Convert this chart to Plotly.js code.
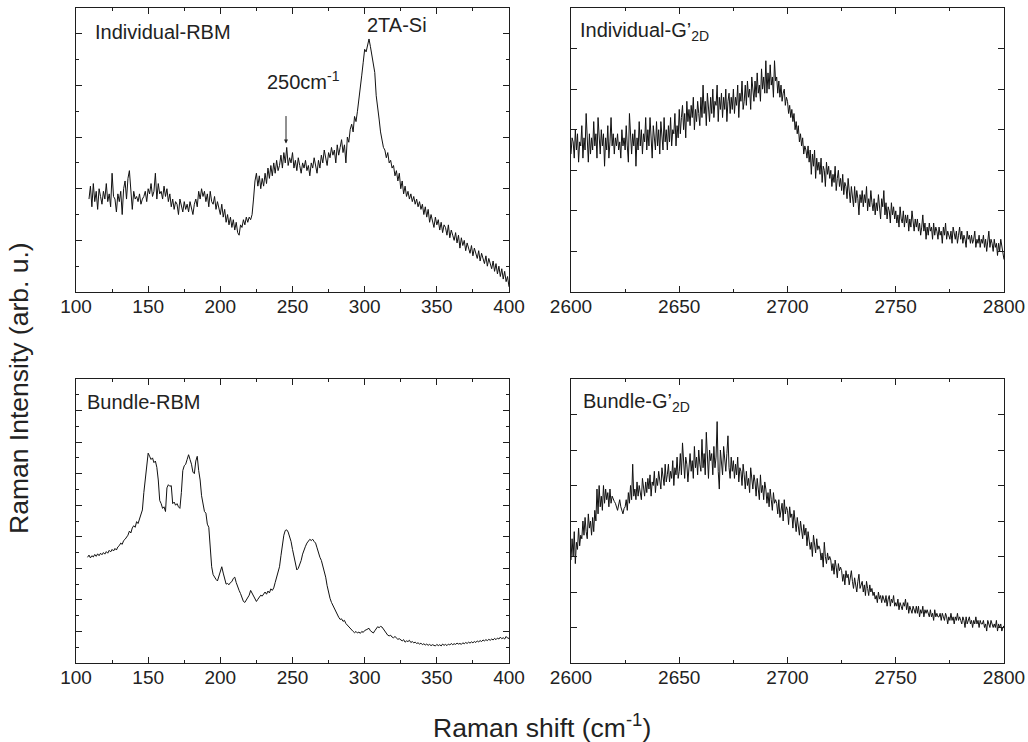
<!DOCTYPE html>
<html>
<head>
<meta charset="utf-8">
<script src="https://cdn.plot.ly/plotly-3.0.1.min.js"></script>
<style>html,body{margin:0;padding:0;background:#fff;}#chart{width:1028px;height:742px;}</style>
</head>
<body>
<div id="chart"></div>
<script>
// ---- data: intensity (arb. units) on an evenly sampled Raman-shift grid ----
const indivRbmStart = 109, indivRbmStep = 1;
const indivRbmValues = [
3.6,4.1,3.3,4.2,3.5,3.9,3.2,4.0,3.7,3.4,
3.9,3.6,4.2,3.5,3.8,3.3,4.6,3.7,3.6,3.1,
3.8,3.5,3.9,3.0,4.0,4.3,3.6,4.4,4.7,4.1,
3.2,3.9,3.6,3.7,3.5,3.8,3.4,3.6,3.7,3.9,
3.5,4.0,3.8,4.2,3.7,3.9,4.6,3.6,4.2,3.8,
3.9,3.6,4.1,3.7,4.0,3.5,3.8,3.3,3.6,3.2,
3.5,3.4,3.0,3.6,3.3,3.1,3.5,3.2,3.4,3.1,
3.5,3.3,3.0,3.4,3.6,3.3,3.9,3.6,4.0,3.7,
3.9,3.5,3.8,3.3,3.9,3.5,3.4,3.7,3.2,3.5,
3.3,3.0,3.4,2.9,3.2,2.7,3.0,2.6,2.9,2.5,
2.8,2.4,2.7,2.3,2.2,2.6,2.5,2.8,2.6,2.9,
2.7,2.9,2.8,3.0,3.6,4.3,4.6,4.1,4.5,4.0,
4.4,4.1,4.6,4.2,4.8,4.4,4.9,4.5,5.0,4.6,
5.1,4.7,4.9,5.3,4.8,5.4,5.0,5.6,4.9,5.2,
5.0,5.4,4.8,5.1,4.7,5.2,4.9,4.6,5.0,4.8,
5.1,4.7,4.9,4.5,5.0,4.8,5.2,4.9,4.6,5.1,
4.8,5.3,5.0,5.5,5.1,4.9,5.4,5.2,5.6,5.3,
5.5,5.0,5.7,5.3,5.6,5.9,5.4,5.7,5.0,6.0,
5.8,6.3,6.5,6.2,6.8,6.6,7.0,7.4,7.8,8.4,
8.9,9.4,9.3,9.6,9.8,9.5,9.1,8.8,8.5,7.6,
7.0,6.7,6.2,5.9,5.6,5.5,5.2,5.4,5.0,5.1,
4.8,4.9,4.5,4.7,4.3,4.6,4.0,4.3,3.8,4.1,
3.7,3.9,3.6,3.8,3.5,3.7,3.4,3.6,3.3,3.5,
3.2,3.4,3.0,3.3,2.9,3.2,2.7,3.0,2.8,2.5,
2.9,2.6,2.8,2.4,2.7,2.3,2.6,2.5,2.2,2.6,
2.1,2.4,2.2,2.0,2.3,1.9,2.2,1.7,2.1,1.8,
2.0,1.6,1.9,1.7,1.5,1.8,1.4,1.7,1.5,1.3,
1.6,1.2,1.5,1.3,1.1,1.4,1.0,1.3,1.1,0.9,
1.2,0.8,1.1,0.7,1.0,0.6,0.9,0.5,0.8,0.4,
0.6,0.2
];

const indivGStart = 2600, indivGStep = 0.5;
const indivGValues = [
3.4,3.8,3.7,3.3,4.0,3.5,3.9,3.2,3.7,3.6,
4.1,3.3,3.8,3.5,4.4,3.6,3.2,3.9,3.4,3.8,
3.5,4.2,3.6,3.9,3.3,4.3,3.7,3.4,4.0,3.6,
3.9,3.1,3.8,3.5,4.1,3.3,3.7,4.3,3.6,3.9,
3.4,3.8,3.6,3.9,3.5,3.7,3.3,4.0,3.6,3.8,
3.5,4.1,3.6,3.2,4.4,3.8,3.4,3.9,3.6,4.0,
3.1,3.8,3.5,4.2,3.6,4.0,3.4,3.9,3.7,4.3,
3.5,4.0,3.6,4.3,3.7,3.3,4.1,3.8,3.5,4.2,
3.6,4.0,3.4,4.2,3.8,3.5,4.3,3.7,4.0,3.5,
4.1,3.7,4.3,3.6,4.0,3.9,4.4,3.6,4.1,3.8,
4.5,3.9,4.3,4.6,4.0,4.4,3.8,4.7,4.2,4.5,
4.1,4.6,4.3,4.8,4.0,4.5,4.2,4.7,4.4,4.1,
4.8,4.3,5.1,4.4,4.7,4.1,4.9,4.5,4.2,4.8,
4.4,5.0,4.3,4.7,4.6,5.1,4.2,4.8,4.5,4.9,
4.3,4.8,4.5,5.0,4.2,4.7,4.9,4.4,4.8,4.5,
5.0,4.4,4.8,4.6,5.1,4.3,4.9,4.7,5.2,4.5,
4.7,5.1,4.6,5.2,4.8,5.0,4.5,5.3,4.9,4.7,
5.2,4.8,5.4,4.9,5.1,4.7,5.5,5.0,5.3,4.9,
5.7,4.9,5.4,5.0,5.6,5.1,5.3,4.8,5.7,5.2,
5.3,4.9,5.2,4.8,5.1,4.7,4.9,5.0,4.6,4.8,
4.7,4.4,4.6,4.3,4.5,4.2,4.4,4.0,4.2,3.9,
4.1,3.7,3.9,3.6,3.8,3.4,3.6,3.5,3.3,3.6,
3.2,3.5,2.9,3.4,3.1,3.5,2.8,3.3,3.0,3.2,
2.9,3.3,2.7,3.1,3.0,2.6,3.2,2.9,3.1,2.8,
3.0,2.6,2.9,2.7,3.1,2.5,2.8,3.0,2.6,2.8,
2.5,2.9,2.4,2.7,2.6,2.3,2.8,2.5,2.2,2.6,
2.4,2.1,2.6,2.2,2.5,2.3,1.9,2.4,2.2,2.5,
2.1,2.4,2.2,2.6,2.0,2.3,2.1,2.5,2.2,2.0,
2.3,1.9,2.2,2.0,2.4,2.1,1.8,2.3,2.1,2.5,
1.9,2.2,1.8,2.1,2.0,1.7,2.2,1.9,2.1,1.8,
2.0,1.7,1.9,1.6,2.1,1.8,1.7,2.0,1.6,1.9,
1.7,1.9,1.5,1.8,1.6,2.0,1.7,1.5,1.8,1.6,
1.8,1.5,1.7,1.4,1.6,1.9,1.5,1.7,1.3,1.6,
1.4,1.7,1.5,1.6,1.3,1.7,1.4,1.6,1.5,1.3,
1.6,1.4,1.5,1.2,1.6,1.4,1.7,1.3,1.5,1.4,
1.3,1.5,1.2,1.6,1.4,1.3,1.5,1.2,1.4,1.6,
1.3,1.5,1.2,1.4,1.3,1.1,1.5,1.3,1.4,1.2,
1.4,1.2,1.3,1.5,1.1,1.3,1.2,1.4,1.1,1.3,
1.2,1.4,1.1,1.3,1.0,1.2,1.5,1.1,1.3,1.2,
1.0,1.3,1.1,1.2,0.9,1.2,1.0,1.3,1.1,0.9,
0.8
];

const bundleRbmStart = 108, bundleRbmStep = 1;
const bundleRbmValues = [
3.35,3.42,3.33,3.40,3.36,3.44,3.38,3.46,3.40,3.48,
3.43,3.50,3.45,3.53,3.48,3.57,3.52,3.60,3.55,3.63,
3.58,3.68,3.72,3.80,3.76,3.88,3.92,4.00,4.05,4.18,
4.12,4.28,4.35,4.30,4.48,4.42,4.55,4.70,4.85,5.40,
5.90,6.40,6.65,6.55,6.45,6.50,6.35,6.40,6.20,5.80,
5.15,5.05,4.90,4.95,4.80,5.55,5.65,5.60,5.62,5.05,
5.10,5.00,5.05,4.95,4.90,5.40,6.10,6.25,6.30,6.45,
6.60,6.45,6.30,6.05,6.00,6.40,6.55,6.10,5.80,5.30,
5.05,4.80,4.75,4.40,4.30,3.60,3.05,2.80,2.70,2.65,
2.60,2.75,2.95,3.05,2.85,2.70,2.50,2.52,2.48,2.55,
2.58,2.68,2.72,2.55,2.40,2.30,2.20,2.10,1.95,1.92,
2.00,2.08,2.15,2.30,2.22,2.15,2.05,1.95,2.02,2.10,
2.15,2.12,2.20,2.25,2.18,2.28,2.22,2.35,2.30,2.38,
2.55,2.70,2.90,3.05,3.40,3.75,4.05,4.20,4.22,4.15,
4.00,3.85,3.60,3.35,3.10,2.95,3.00,3.10,3.25,3.45,
3.60,3.70,3.80,3.85,3.92,3.88,3.92,3.85,3.80,3.65,
3.48,3.35,3.25,3.10,2.90,2.72,2.45,2.22,2.05,1.92,
1.82,1.75,1.62,1.50,1.45,1.38,1.40,1.32,1.35,1.25,
1.20,1.12,1.08,1.02,1.00,0.96,1.00,0.95,0.98,0.94,
1.00,0.97,1.03,1.05,1.08,1.10,1.02,0.98,0.95,1.02,
1.10,1.15,1.12,1.16,1.14,1.08,1.02,0.95,0.88,0.86,
0.88,0.82,0.80,0.84,0.78,0.75,0.77,0.72,0.70,0.74,
0.66,0.70,0.68,0.72,0.65,0.68,0.64,0.66,0.62,0.64,
0.60,0.63,0.58,0.61,0.57,0.60,0.56,0.59,0.55,0.58,
0.56,0.54,0.59,0.55,0.58,0.54,0.60,0.56,0.59,0.55,
0.60,0.57,0.62,0.58,0.61,0.59,0.63,0.60,0.62,0.59,
0.64,0.61,0.65,0.62,0.66,0.63,0.67,0.64,0.68,0.65,
0.70,0.67,0.71,0.68,0.73,0.70,0.74,0.71,0.75,0.72,
0.76,0.73,0.78,0.74,0.79,0.76,0.82,0.77,0.80,0.76,
0.84,0.79,0.78
];

const bundleGStart = 2600, bundleGStep = 0.5;
const bundleGValues = [
2.9,3.5,3.0,3.7,2.8,3.4,3.2,3.8,3.3,3.6,
3.5,4.0,3.6,4.1,3.7,3.5,4.2,3.8,4.0,3.6,
4.1,3.7,4.3,4.0,4.9,4.2,5.0,4.4,4.7,4.3,
5.0,4.5,4.9,4.6,4.8,4.4,4.9,4.5,4.7,4.6,
4.55,4.5,4.4,4.3,4.45,4.6,4.4,4.25,4.2,4.35,
4.4,4.6,4.3,4.8,4.5,5.0,4.6,5.6,4.7,4.9,
4.6,5.1,4.7,5.0,4.8,4.6,5.2,4.9,4.7,5.1,
4.8,5.2,4.9,5.3,4.7,5.1,5.0,5.4,4.8,5.2,
5.0,5.4,5.1,4.9,5.5,5.2,5.0,5.6,5.1,5.3,
5.6,5.1,5.4,5.2,5.7,5.0,5.5,5.3,5.8,5.2,
5.4,5.9,5.3,6.2,5.5,5.2,5.8,5.6,5.1,5.7,
5.9,5.4,5.7,5.2,6.1,5.5,5.8,5.3,6.0,5.6,
5.4,6.3,5.5,5.9,5.3,6.5,5.6,5.2,6.0,5.7,
5.9,5.3,6.1,5.5,5.8,6.8,5.4,4.9,6.0,5.6,
5.3,6.1,5.7,5.4,5.9,6.4,5.5,5.2,5.8,5.4,
5.7,5.2,5.6,5.3,5.8,5.1,5.5,5.4,5.0,5.6,
5.3,4.9,5.4,5.0,5.2,4.8,5.5,5.1,4.9,5.3,
5.1,4.7,5.2,4.9,4.6,5.3,4.8,5.0,4.6,5.1,
4.9,4.5,4.8,4.4,4.9,4.6,4.3,4.8,4.5,4.6,
4.5,4.2,4.6,4.1,4.4,4.5,4.0,4.6,4.2,4.4,
4.3,3.9,4.4,4.1,4.2,3.8,4.3,4.0,3.7,4.1,
3.9,3.6,4.0,3.7,3.5,3.9,3.6,3.8,3.3,3.7,
3.5,3.2,3.4,3.0,3.6,3.3,3.1,3.5,3.2,3.3,
3.2,2.9,3.1,2.7,3.4,3.0,2.8,3.1,2.9,3.0,
2.9,2.6,2.8,2.5,2.9,2.7,2.4,2.8,2.6,2.7,
2.6,2.3,2.5,2.2,2.6,2.4,2.5,2.2,2.4,2.6,
2.3,2.1,2.4,2.2,2.0,2.3,2.5,2.1,2.2,2.3,
2.0,2.2,1.9,2.3,2.1,1.9,2.2,2.0,2.1,1.9,
2.0,1.8,1.9,1.7,2.0,1.8,1.9,1.7,1.9,1.8,
1.7,1.9,1.6,1.8,1.9,1.6,1.8,1.7,1.9,1.6,
1.7,1.6,1.8,1.5,1.7,1.6,1.5,1.7,1.6,1.8,
1.5,1.7,1.4,1.6,1.5,1.4,1.6,1.5,1.4,1.6,
1.4,1.6,1.3,1.5,1.4,1.6,1.3,1.5,1.4,1.5,
1.4,1.3,1.5,1.3,1.4,1.2,1.5,1.3,1.4,1.3,
1.3,1.4,1.2,1.4,1.3,1.2,1.4,1.3,1.1,1.3,
1.2,1.4,1.2,1.3,1.1,1.3,1.2,1.4,1.2,1.3,
1.2,1.1,1.3,1.2,1.0,1.3,1.1,1.2,1.3,1.1,
1.2,1.0,1.2,1.1,1.3,1.1,1.2,1.0,1.2,1.1,
1.1,1.2,1.0,1.1,0.9,1.2,1.1,1.0,1.2,1.1,
1.0,1.1,1.0,1.2,0.9,1.1,1.0,1.1,0.9,1.0,
1.05
];

const panelLabels = ['Individual-RBM', 'Individual-G’<sub>2D</sub>', 'Bundle-RBM', 'Bundle-G’<sub>2D</sub>'];
const peakLabels = ['2TA-Si', '250cm<sup>-1</sup>'];
const xTitle = 'Raman shift (cm<sup>-1</sup>)';
const yTitle = 'Raman Intensity (arb. u.)';

// ---- figure ----
const W = 1028, H = 742;
const px = v => v / W;
const py = v => 1 - v / H;
const FONT = 'Liberation Sans, Arial, Helvetica, sans-serif';
const INK = '#1e1e1e';

function grid(start, step, vals) { return vals.map((_, i) => start + i * step); }

const lineStyle = {color: '#111', width: 1};
const traces = [
  {x: grid(indivRbmStart, indivRbmStep, indivRbmValues), y: indivRbmValues, xaxis: 'x', yaxis: 'y', type: 'scatter', mode: 'lines', line: lineStyle},
  {x: grid(indivGStart, indivGStep, indivGValues), y: indivGValues, xaxis: 'x2', yaxis: 'y2', type: 'scatter', mode: 'lines', line: lineStyle},
  {x: grid(bundleRbmStart, bundleRbmStep, bundleRbmValues), y: bundleRbmValues, xaxis: 'x3', yaxis: 'y3', type: 'scatter', mode: 'lines', line: lineStyle},
  {x: grid(bundleGStart, bundleGStep, bundleGValues), y: bundleGValues, xaxis: 'x4', yaxis: 'y4', type: 'scatter', mode: 'lines', line: lineStyle}
];

const common = {
  showline: true, mirror: 'ticks', linecolor: INK, linewidth: 1.2,
  ticks: 'inside', ticklen: 6, tickwidth: 1, tickcolor: INK,
  showgrid: false, zeroline: false, fixedrange: true,
  tickfont: {family: FONT, size: 19, color: '#222'}
};
function xax(domain, anchor, range, dtick, minor) {
  return Object.assign({}, common, {domain, anchor, range, tick0: range[0], dtick, ticklabelstandoff: -3,
    minor: {dtick: minor, ticklen: 3, ticks: 'inside', tickcolor: INK, showgrid: false}});
}
function yax(domain, anchor, range, dtick, minor) {
  const a = Object.assign({}, common, {domain, anchor, range, tick0: 0, dtick, showticklabels: false});
  if (minor) a.minor = {dtick: minor, ticklen: 3, ticks: 'inside', tickcolor: INK, showgrid: false};
  return a;
}

const domLeft = [px(76), px(509)], domRight = [px(571), px(1004)];
const domTop = [py(292), py(8)], domBottom = [py(663), py(379)];

const annFont = {family: FONT, size: 20, color: '#222'};
const titleFont = {family: FONT, size: 26.5, color: '#222'};
const layout = {
  width: W, height: H,
  margin: {l: 0, r: 0, t: 0, b: 0},
  paper_bgcolor: '#fff', plot_bgcolor: '#fff',
  showlegend: false,
  xaxis: xax(domLeft, 'y', [100, 400], 50, 25),
  yaxis: yax(domTop, 'x', [0, 11], 2, 1),
  xaxis2: xax(domRight, 'y2', [2600, 2800], 50, 25),
  yaxis2: yax(domTop, 'x2', [0, 7], 1, null),
  xaxis3: xax(domLeft, 'y3', [100, 400], 50, 25),
  yaxis3: yax(domBottom, 'x3', [0, 9], 1, 0.5),
  xaxis4: xax(domRight, 'y4', [2600, 2800], 50, 25),
  yaxis4: yax(domBottom, 'x4', [0, 8], 1, null),
  annotations: [
    {text: panelLabels[0], xref: 'paper', yref: 'paper', x: px(93), y: py(32), xanchor: 'left', yanchor: 'middle', showarrow: false, font: annFont},
    {text: panelLabels[1], xref: 'paper', yref: 'paper', x: px(578), y: py(32), xanchor: 'left', yanchor: 'middle', showarrow: false, font: annFont},
    {text: panelLabels[2], xref: 'paper', yref: 'paper', x: px(85), y: py(402), xanchor: 'left', yanchor: 'middle', showarrow: false, font: annFont},
    {text: panelLabels[3], xref: 'paper', yref: 'paper', x: px(581), y: py(402), xanchor: 'left', yanchor: 'middle', showarrow: false, font: annFont},
    {text: peakLabels[0], xref: 'paper', yref: 'paper', x: px(397), y: py(25), xanchor: 'center', yanchor: 'middle', showarrow: false, font: annFont},
    {text: peakLabels[1], xref: 'paper', yref: 'paper', x: px(265), y: py(81), xanchor: 'left', yanchor: 'middle', showarrow: false, font: annFont},
    {text: '', xref: 'x', yref: 'y', x: 245.5, y: 5.75, ax: 0, ay: -29, showarrow: true, arrowhead: 2, arrowsize: 0.8, arrowwidth: 1, arrowcolor: '#222'},
    {text: xTitle, xref: 'paper', yref: 'paper', x: px(542), y: py(726), xanchor: 'center', yanchor: 'middle', showarrow: false, font: titleFont},
    {text: yTitle, xref: 'paper', yref: 'paper', x: px(19), y: py(388), xanchor: 'center', yanchor: 'middle', textangle: -90, showarrow: false, font: titleFont}
  ]
};

Plotly.newPlot('chart', traces, layout, {staticPlot: true, displayModeBar: false});
</script>
</body>
</html>
